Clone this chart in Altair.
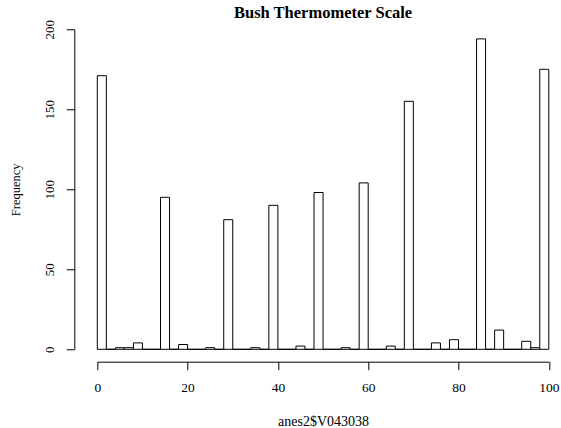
import altair as alt
import pandas as pd

# Histogram of anes2$V043038 (breaks of width 2 from 0 to 100)
bin_starts = list(range(0, 100, 2))
counts = [171, 0, 1, 1, 4, 0, 0, 95, 0, 3,
          0, 0, 1, 0, 81, 0, 0, 1, 0, 90,
          0, 0, 2, 0, 98, 0, 0, 1, 0, 104,
          0, 0, 2, 0, 155, 0, 0, 4, 0, 6,
          0, 0, 194, 0, 12, 0, 0, 5, 1, 175]
x_ticks = [0, 20, 40, 60, 80, 100]
y_ticks = [0, 50, 100, 150, 200]

df = pd.DataFrame({
    "start": bin_starts,
    "end": [s + 2 for s in bin_starts],
    "count": counts,
    "base": [0] * len(counts),
})

FONT = "Liberation Serif"

chart = alt.Chart(df).mark_rect(
    fill="white", stroke="black", strokeWidth=1
).encode(
    x=alt.X("start:Q",
            scale=alt.Scale(domain=[0, 100], nice=False, zero=False),
            axis=alt.Axis(values=x_ticks, title="anes2$V043038", offset=12.4,
                          tickSize=8, labelPadding=11, titlePadding=20,
                          labelFont=FONT, labelFontSize=13.5,
                          titleFont=FONT, titleFontSize=14,
                          titleFontWeight="normal",
                          labelFlush=False, grid=False)),
    x2="end:Q",
    y=alt.Y("count:Q",
            scale=alt.Scale(domain=[0, 200], nice=False),
            axis=alt.Axis(values=y_ticks, title="Frequency", offset=23,
                          tickSize=8, labelAngle=270, labelAlign="center",
                          labelBaseline="alphabetic", labelPadding=13,
                          labelFont=FONT, labelFontSize=13,
                          titleFont=FONT, titleFontSize=12.5,
                          titleFontWeight="normal",
                          titlePadding=21, labelFlush=False, grid=False)),
    y2="base:Q",
).properties(
    width=451.5,
    height=320,
    title=alt.TitleParams("Bush Thermometer Scale", font=FONT, fontSize=16.5,
                          fontWeight="bold", anchor="middle", color="black",
                          offset=-2),
    autosize=alt.AutoSizeParams(type="none"),
    padding={"left": 97.3, "top": 29.3, "right": 12.2, "bottom": 78.7},
    background="white",
).configure_axis(
    labelColor="black", titleColor="black",
    domainColor="black", tickColor="black", domainWidth=1, tickWidth=1,
).configure_view(
    strokeWidth=0
)

chart.save("out.html", embed_options={"renderer": "svg", "actions": False})
